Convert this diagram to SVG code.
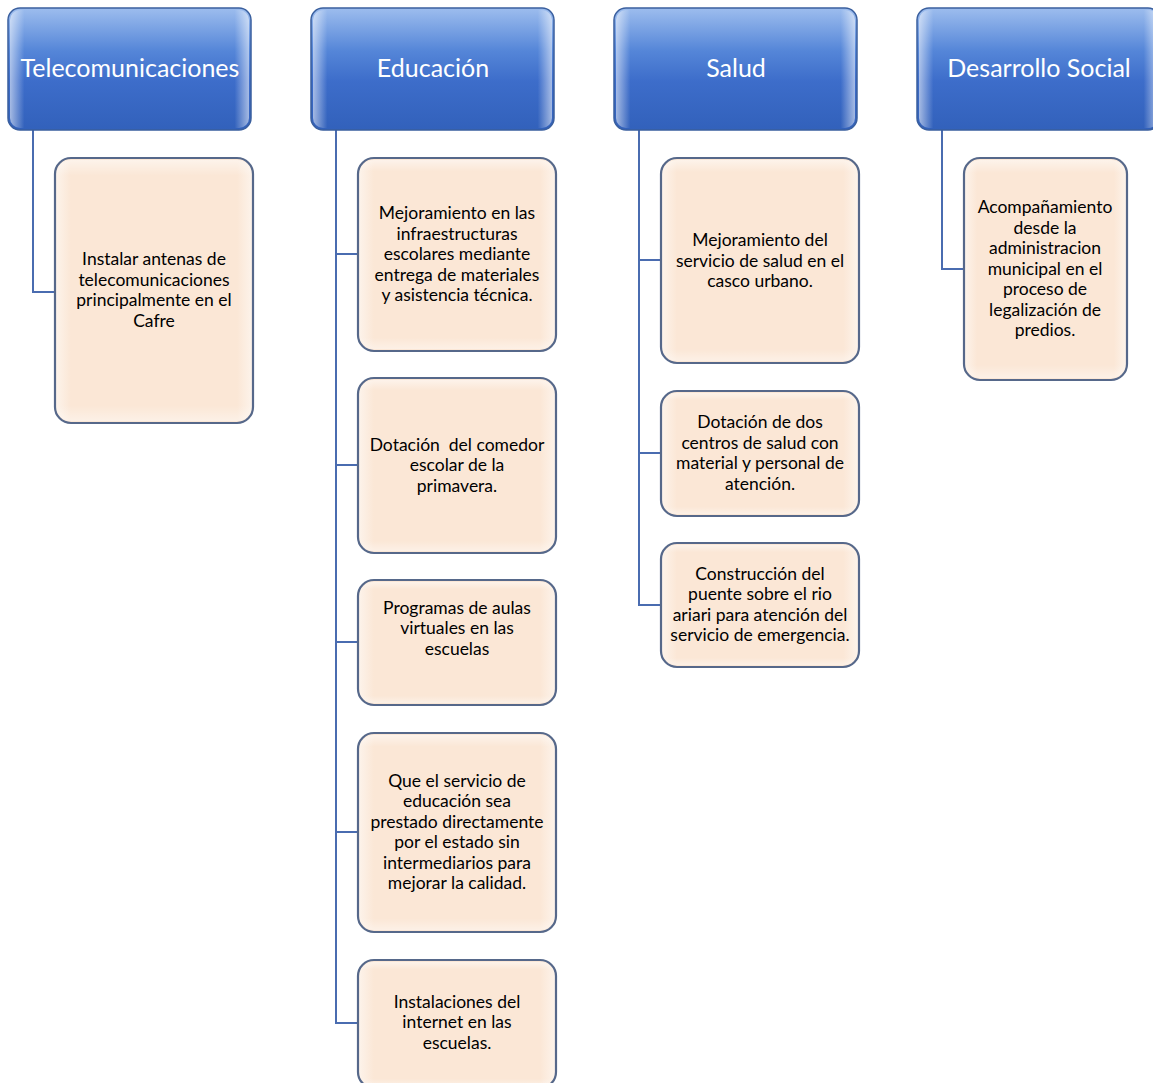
<svg xmlns="http://www.w3.org/2000/svg" width="1153" height="1083" viewBox="0 0 1153 1083">
<defs>
<linearGradient id="hg" x1="0" y1="0" x2="0" y2="1">
<stop offset="0" stop-color="#9dbdee"/>
<stop offset="0.35" stop-color="#5586d8"/>
<stop offset="0.6" stop-color="#3d6dca"/>
<stop offset="1" stop-color="#3261bb"/>
</linearGradient>
<linearGradient id="hl" x1="0" y1="0" x2="1" y2="0">
<stop offset="0" stop-color="#ffffff" stop-opacity="0.55"/>
<stop offset="0.06" stop-color="#ffffff" stop-opacity="0"/>
<stop offset="0.94" stop-color="#ffffff" stop-opacity="0"/>
<stop offset="1" stop-color="#ffffff" stop-opacity="0.55"/>
</linearGradient>
<linearGradient id="cg" x1="0" y1="0" x2="1" y2="0">
<stop offset="0" stop-color="#fdf4ec"/>
<stop offset="0.08" stop-color="#fbe7d6"/>
<stop offset="0.92" stop-color="#fbe7d6"/>
<stop offset="1" stop-color="#fdf4ec"/>
</linearGradient>
<linearGradient id="cv" x1="0" y1="0" x2="0" y2="1">
<stop offset="0" stop-color="#ffffff" stop-opacity="0.5"/>
<stop offset="0.06" stop-color="#ffffff" stop-opacity="0"/>
<stop offset="0.94" stop-color="#ffffff" stop-opacity="0"/>
<stop offset="1" stop-color="#ffffff" stop-opacity="0.4"/>
</linearGradient>
</defs>
<style>
.hbox{fill:url(#hg);stroke:#3a5f9e;stroke-width:1.5}
.hhl{fill:url(#hl);stroke:none}
.htxt{font-family:Lato,"Liberation Sans",sans-serif;font-size:25px;fill:#ffffff;text-anchor:middle}
.cbox{fill:url(#cg);stroke:#56688a;stroke-width:2.2}
.chl{fill:url(#cv);stroke:none}
.ctxt{font-family:Lato,"Liberation Sans",sans-serif;font-size:17.5px;fill:#000000;text-anchor:middle}
.conn{fill:none;stroke:#4a6cb0;stroke-width:2}
</style>
<rect width="1153" height="1083" fill="#ffffff"/>

<g id="connectors">
<path class="conn" d="M33,130 V292 H55"/>
<path class="conn" d="M336,130 V1023 H358 M336,254 H358 M336,465 H358 M336,642 H358 M336,832 H358"/>
<path class="conn" d="M639,130 V605 H661 M639,260 H661 M639,453 H661"/>
<path class="conn" d="M942,130 V269 H964"/>
</g>

<g id="h-telecom">
<rect class="hbox" x="8" y="8" width="243" height="122" rx="12"/>
<rect class="hhl" x="10" y="10" width="239" height="118" rx="10"/>
<text class="htxt" x="130" y="77">Telecomunicaciones</text>
</g>
<g id="h-educacion">
<rect class="hbox" x="311" y="8" width="243" height="122" rx="12"/>
<rect class="hhl" x="313" y="10" width="239" height="118" rx="10"/>
<text class="htxt" x="433" y="77">Educación</text>
</g>
<g id="h-salud">
<rect class="hbox" x="614" y="8" width="243" height="122" rx="12"/>
<rect class="hhl" x="616" y="10" width="239" height="118" rx="10"/>
<text class="htxt" x="736" y="77">Salud</text>
</g>
<g id="h-desarrollo">
<rect class="hbox" x="917" y="8" width="243" height="122" rx="12"/>
<rect class="hhl" x="919" y="10" width="239" height="118" rx="10"/>
<text class="htxt" x="1039" y="77">Desarrollo Social</text>
</g>

<g id="c-telecom-1">
<rect class="cbox" x="55" y="158" width="198" height="265" rx="16"/>
<rect class="chl" x="57" y="160" width="194" height="261" rx="14"/>
<text class="ctxt" x="154" y="265">Instalar antenas de</text>
<text class="ctxt" x="154" y="286">telecomunicaciones</text>
<text class="ctxt" x="154" y="306">principalmente en el</text>
<text class="ctxt" x="154" y="327">Cafre</text>
</g>

<g id="c-edu-1">
<rect class="cbox" x="358" y="158" width="198" height="193" rx="16"/>
<rect class="chl" x="360" y="160" width="194" height="189" rx="14"/>
<text class="ctxt" x="457" y="219">Mejoramiento en las</text>
<text class="ctxt" x="457" y="240">infraestructuras</text>
<text class="ctxt" x="457" y="260">escolares mediante</text>
<text class="ctxt" x="457" y="281">entrega de materiales</text>
<text class="ctxt" x="457" y="301">y asistencia técnica.</text>
</g>
<g id="c-edu-2">
<rect class="cbox" x="358" y="378" width="198" height="175" rx="16"/>
<rect class="chl" x="360" y="380" width="194" height="171" rx="14"/>
<text class="ctxt" x="457" y="451" xml:space="preserve">Dotación  del comedor</text>
<text class="ctxt" x="457" y="471">escolar de la</text>
<text class="ctxt" x="457" y="492">primavera.</text>
</g>
<g id="c-edu-3">
<rect class="cbox" x="358" y="580" width="198" height="125" rx="16"/>
<rect class="chl" x="360" y="582" width="194" height="121" rx="14"/>
<text class="ctxt" x="457" y="614">Programas de aulas</text>
<text class="ctxt" x="457" y="634">virtuales en las</text>
<text class="ctxt" x="457" y="655">escuelas</text>
</g>
<g id="c-edu-4">
<rect class="cbox" x="358" y="733" width="198" height="199" rx="16"/>
<rect class="chl" x="360" y="735" width="194" height="195" rx="14"/>
<text class="ctxt" x="457" y="787">Que el servicio de</text>
<text class="ctxt" x="457" y="807">educación sea</text>
<text class="ctxt" x="457" y="828">prestado directamente</text>
<text class="ctxt" x="457" y="848">por el estado sin</text>
<text class="ctxt" x="457" y="869">intermediarios para</text>
<text class="ctxt" x="457" y="889">mejorar la calidad.</text>
</g>
<g id="c-edu-5">
<rect class="cbox" x="358" y="960" width="198" height="128" rx="16"/>
<rect class="chl" x="360" y="962" width="194" height="124" rx="14"/>
<text class="ctxt" x="457" y="1008">Instalaciones del</text>
<text class="ctxt" x="457" y="1028">internet en las</text>
<text class="ctxt" x="457" y="1049">escuelas.</text>
</g>

<g id="c-salud-1">
<rect class="cbox" x="661" y="158" width="198" height="205" rx="16"/>
<rect class="chl" x="663" y="160" width="194" height="201" rx="14"/>
<text class="ctxt" x="760" y="246">Mejoramiento del</text>
<text class="ctxt" x="760" y="267">servicio de salud en el</text>
<text class="ctxt" x="760" y="287">casco urbano.</text>
</g>
<g id="c-salud-2">
<rect class="cbox" x="661" y="391" width="198" height="125" rx="16"/>
<rect class="chl" x="663" y="393" width="194" height="121" rx="14"/>
<text class="ctxt" x="760" y="428">Dotación de dos</text>
<text class="ctxt" x="760" y="449">centros de salud con</text>
<text class="ctxt" x="760" y="469">material y personal de</text>
<text class="ctxt" x="760" y="490">atención.</text>
</g>
<g id="c-salud-3">
<rect class="cbox" x="661" y="543" width="198" height="124" rx="16"/>
<rect class="chl" x="663" y="545" width="194" height="120" rx="14"/>
<text class="ctxt" x="760" y="580">Construcción del</text>
<text class="ctxt" x="760" y="600">puente sobre el rio</text>
<text class="ctxt" x="760" y="621">ariari para atención del</text>
<text class="ctxt" x="760" y="641">servicio de emergencia.</text>
</g>

<g id="c-desarrollo-1">
<rect class="cbox" x="964" y="158" width="163" height="222" rx="16"/>
<rect class="chl" x="966" y="160" width="159" height="218" rx="14"/>
<text class="ctxt" x="1045" y="213">Acompañamiento</text>
<text class="ctxt" x="1045" y="234">desde la</text>
<text class="ctxt" x="1045" y="254">administracion</text>
<text class="ctxt" x="1045" y="275">municipal en el</text>
<text class="ctxt" x="1045" y="295">proceso de</text>
<text class="ctxt" x="1045" y="316">legalización de</text>
<text class="ctxt" x="1045" y="336">predios.</text>
</g>
</svg>
